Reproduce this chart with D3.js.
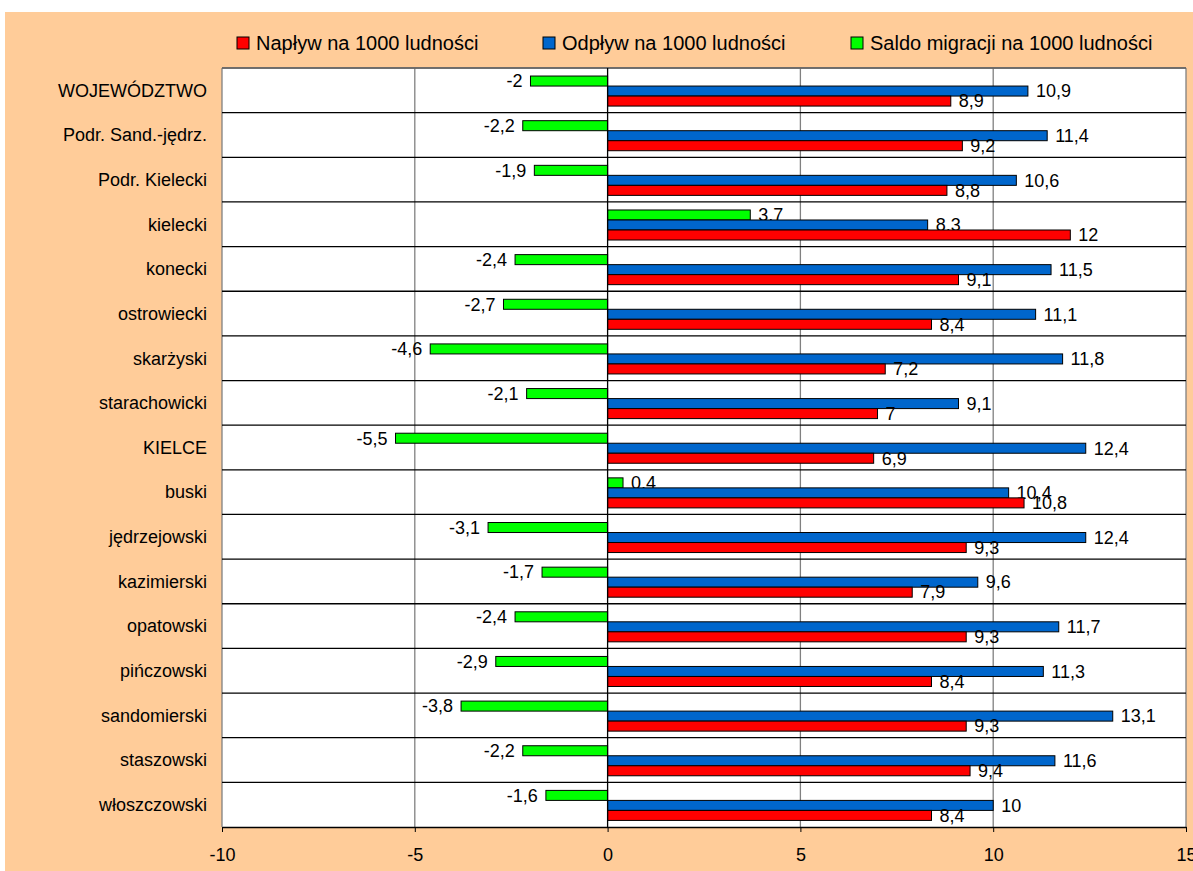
<!DOCTYPE html>
<html>
<head>
<meta charset="utf-8">
<script src="https://cdn.jsdelivr.net/npm/d3@7"></script>
<style>
  body { margin: 0; background: #fff; }
  text { font-family: "Liberation Sans", Arial, sans-serif; fill: #000; }
</style>
</head>
<body>
<div class="chart"></div>
<script>
const categories = ['WOJEWÓDZTWO', 'Podr. Sand.-jędrz.', 'Podr. Kielecki', 'kielecki', 'konecki',
  'ostrowiecki', 'skarżyski', 'starachowicki', 'KIELCE', 'buski', 'jędrzejowski', 'kazimierski',
  'opatowski', 'pińczowski', 'sandomierski', 'staszowski', 'włoszczowski'];
const naplyw = [8.9, 9.2, 8.8, 12, 9.1, 8.4, 7.2, 7, 6.9, 10.8, 9.3, 7.9, 9.3, 8.4, 9.3, 9.4, 8.4];
const odplyw = [10.9, 11.4, 10.6, 8.3, 11.5, 11.1, 11.8, 9.1, 12.4, 10.4, 12.4, 9.6, 11.7, 11.3, 13.1, 11.6, 10];
const saldo = [-2, -2.2, -1.9, 3.7, -2.4, -2.7, -4.6, -2.1, -5.5, 0.4, -3.1, -1.7, -2.4, -2.9, -3.8, -2.2, -1.6];
const seriesNames = ['Napływ na 1000 ludności', 'Odpływ na 1000 ludności', 'Saldo migracji na 1000 ludności'];
const xTicks = [-10, -5, 0, 5, 10, 15];

const W = 1193, H = 871;
const plot = { left: 222, right: 1186, top: 68, bottom: 827 };

// draw order: saldo (top), odplyw, naplyw (bottom) - as in the original
const series = [
  { key: 'saldo', name: seriesNames[2], values: saldo, color: '#00ff00' },
  { key: 'odplyw', name: seriesNames[1], values: odplyw, color: '#0066cc' },
  { key: 'naplyw', name: seriesNames[0], values: naplyw, color: '#ff0000' }
];

const svg = d3.select('.chart').append('svg').attr('width', W).attr('height', H);

svg.append('rect').attr('x', 5).attr('y', 12).attr('width', W - 5).attr('height', H - 12).attr('fill', '#ffcc99');

let xScale = d3.scaleLinear().domain([-10, 15]).range([plot.left, plot.right]);
let yScale = d3.scaleBand().domain(categories).range([plot.top, plot.bottom]);
let ySub = d3.scaleBand().domain(series.map(s => s.key)).range([0, yScale.bandwidth()]).paddingOuter(0.73).align(0.55);

svg.append('rect')
  .attr('x', plot.left).attr('y', plot.top)
  .attr('width', plot.right - plot.left).attr('height', plot.bottom - plot.top)
  .attr('fill', '#fff');

// vertical grid lines
svg.append('g').selectAll('line')
  .data(xTicks.filter(d => d !== 0))
  .enter().append('line')
  .attr('x1', d => xScale(d)).attr('x2', d => xScale(d))
  .attr('y1', plot.top).attr('y2', plot.bottom)
  .attr('stroke', '#808080').attr('stroke-width', 1.3);

// horizontal lines between categories
svg.append('g').selectAll('line')
  .data(categories)
  .enter().append('line')
  .attr('x1', plot.left).attr('x2', plot.right)
  .attr('y1', d => yScale(d)).attr('y2', d => yScale(d))
  .attr('stroke', '#000').attr('stroke-width', 1.3);

// x axis
const xAxis = svg.append('g')
  .attr('transform', `translate(0,${plot.bottom})`)
  .call(d3.axisBottom(xScale).tickValues(xTicks).tickFormat(d => String(d)).tickSize(5).tickSizeOuter(0).tickPadding(16));
xAxis.select('.domain').attr('stroke', '#000').attr('stroke-width', 1.3);
xAxis.selectAll('.tick line').attr('stroke', '#000');
xAxis.selectAll('text').attr('font-size', 18).attr('font-family', '"Liberation Sans", Arial, sans-serif');

// category labels
svg.append('g').selectAll('text')
  .data(categories)
  .enter().append('text')
  .attr('x', 207)
  .attr('y', d => yScale(d) + yScale.bandwidth() / 2)
  .attr('dy', '0.35em')
  .attr('text-anchor', 'end')
  .attr('font-size', 18)
  .text(d => d);

const fmt = v => String(v).replace('.', ',');

series.forEach(function (s) {
  const g = svg.append('g');
  g.selectAll('rect')
    .data(s.values)
    .enter().append('rect')
    .attr('x', d => xScale(Math.min(0, d)))
    .attr('y', (d, i) => yScale(categories[i]) + ySub(s.key))
    .attr('width', d => Math.abs(xScale(d) - xScale(0)))
    .attr('height', ySub.bandwidth())
    .attr('fill', s.color)
    .attr('stroke', '#000').attr('stroke-width', 1);
  g.selectAll('text')
    .data(s.values)
    .enter().append('text')
    .attr('x', d => d < 0 ? xScale(d) - 8 : xScale(d) + 8)
    .attr('y', (d, i) => yScale(categories[i]) + ySub(s.key) + ySub.bandwidth() / 2)
    .attr('dy', '0.35em')
    .attr('text-anchor', d => d < 0 ? 'end' : 'start')
    .attr('font-size', 18)
    .text(d => fmt(d));
});

// plot borders: top grey, zero line black
svg.append('line')
  .attr('x1', plot.left).attr('x2', plot.right).attr('y1', plot.top).attr('y2', plot.top)
  .attr('stroke', '#808080').attr('stroke-width', 1.3);
svg.append('line')
  .attr('x1', xScale(0)).attr('x2', xScale(0)).attr('y1', plot.top).attr('y2', plot.bottom)
  .attr('stroke', '#000').attr('stroke-width', 1.3);

// legend
const legendX = [237, 543, 851];
const legend = svg.append('g');
[series[2], series[1], series[0]].forEach(function (s, i) {
  legend.append('rect')
    .attr('x', legendX[i]).attr('y', 37)
    .attr('width', 12).attr('height', 12)
    .attr('fill', s.color).attr('stroke', '#000').attr('stroke-width', 1);
  legend.append('text')
    .attr('x', legendX[i] + 19).attr('y', 43)
    .attr('dy', '0.35em')
    .attr('font-size', 20)
    .text(s.name);
});
</script>
</body>
</html>
